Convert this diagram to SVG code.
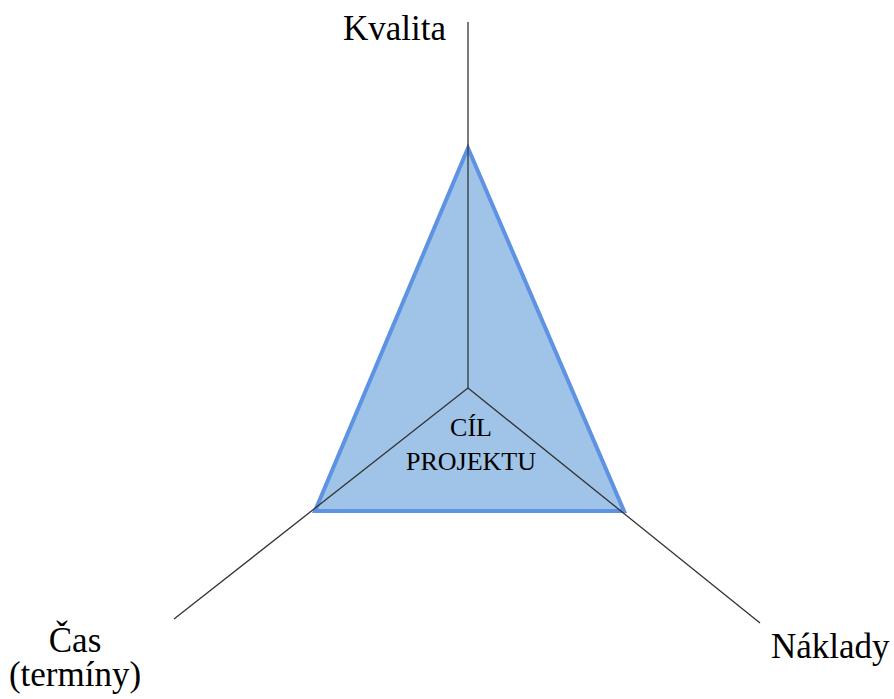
<svg xmlns="http://www.w3.org/2000/svg" width="894" height="699" viewBox="0 0 894 699">
<style>
.lbl{font-family:"Liberation Serif","Times New Roman",serif;font-size:35px;fill:#000}
.in{font-family:"Liberation Serif","Times New Roman",serif;font-size:26px;fill:#000;text-anchor:middle}
.ax{stroke:#333;stroke-width:1.3;fill:none}
</style>
<rect width="894" height="699" fill="#fff"/>
<g id="triangle">
<polygon points="468,148 315,511 624,511" fill="#a0c3e8" stroke="#5e92e2" stroke-width="4" stroke-linejoin="miter"/>
</g>
<g id="connectors">
<line class="ax" x1="468" y1="22" x2="468" y2="388"/>
<line class="ax" x1="468" y1="388" x2="174" y2="619"/>
<line class="ax" x1="468" y1="388" x2="760" y2="623"/>
</g>
<g id="goal">
<text class="in" x="471" y="436">CÍL</text>
<text class="in" x="471" y="470">PROJEKTU</text>
</g>
<g id="kvalita"><text class="lbl" x="343" y="40">Kvalita</text></g>
<g id="naklady"><text class="lbl" x="771" y="658">Náklady</text></g>
<g id="cas">
<text class="lbl" x="75" y="652" text-anchor="middle">Čas</text>
<text class="lbl" x="75" y="686" text-anchor="middle">(termíny)</text>
</g>
</svg>
